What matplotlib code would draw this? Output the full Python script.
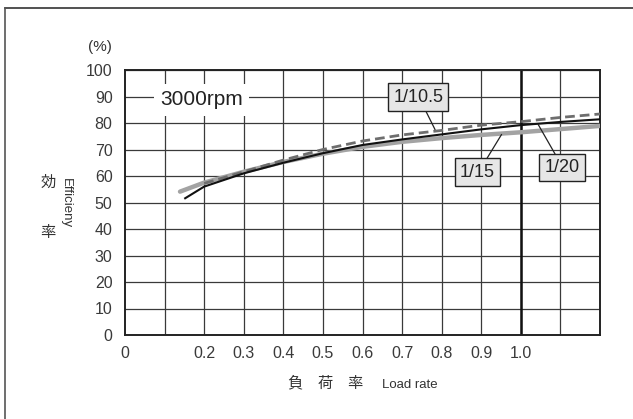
import matplotlib
matplotlib.use("Agg")
import matplotlib.pyplot as plt
from matplotlib.lines import Line2D

plt.rcParams['font.family'] = ['Liberation Sans', 'Noto Sans CJK JP', 'DejaVu Sans']

# efficiency vs load rate at 3000rpm
load_20 = [0.152, 0.2, 0.3, 0.4, 0.5, 0.6, 0.7, 0.8, 0.9, 1.0, 1.1, 1.2]
eff_20 = [51.6, 56.0, 61.0, 65.0, 68.6, 71.7, 73.8, 75.7, 77.6, 79.2, 80.4, 81.4]

load_15 = [0.139, 0.2, 0.3, 0.4, 0.5, 0.6, 0.7, 0.8, 0.9, 1.0, 1.1, 1.2]
eff_15 = [54.1, 57.5, 61.6, 65.3, 68.4, 71.0, 72.9, 74.3, 75.5, 76.5, 77.7, 78.9]

load_105 = [0.2, 0.3, 0.4, 0.5, 0.6, 0.7, 0.8, 0.9, 1.0, 1.1, 1.2]
eff_105 = [57.2, 61.6, 66.0, 70.0, 73.2, 75.5, 77.2, 79.2, 80.5, 82.1, 83.4]

x_grid = [0.1, 0.2, 0.3, 0.4, 0.5, 0.6, 0.7, 0.8, 0.9, 1.0, 1.1]
x_tick_pos = [0, 0.2, 0.3, 0.4, 0.5, 0.6, 0.7, 0.8, 0.9, 1.0]
x_tick_lbl = ['0', '0.2', '0.3', '0.4', '0.5', '0.6', '0.7', '0.8', '0.9', '1.0']
y_ticks = list(range(0, 101, 10))

# label boxes: text, box centre, leader line start and end
labels = [
    ('1/10.5', (0.741, 89.8), (0.760, 84.5), (0.783, 77.6)),
    ('1/15', (0.890, 61.5), (0.913, 66.3), (0.951, 75.6)),
    ('1/20', (1.104, 63.2), (1.088, 67.9), (1.044, 79.4)),
]

fig = plt.figure(figsize=(6.33, 4.19), dpi=100)
ax = fig.add_axes([125 / 633, 1 - 335 / 419, 475 / 633, 265 / 419])

ax.set_xlim(0, 1.2)
ax.set_ylim(0, 100)

for gx in x_grid:
    ax.axvline(gx, color='#3a3a3a', lw=0.9, zorder=1)
for gy in y_ticks[1:]:
    ax.axhline(gy, color='#3a3a3a', lw=0.9, zorder=1)
ax.axvline(1.0, color='#111111', lw=1.8, zorder=1)

for s in ax.spines.values():
    s.set_linewidth(1.4)
    s.set_color('#222222')

ax.plot(load_15, eff_15, color='#a3a3a3', lw=3.2, solid_capstyle='round', zorder=3)
ax.plot(load_105, eff_105, color='#6e6e6e', lw=2.0, dashes=(3.5, 1.8), zorder=4)
ax.plot(load_20, eff_20, color='#111111', lw=1.5, zorder=5)

ax.set_xticks(x_tick_pos)
ax.set_xticklabels(x_tick_lbl)
ax.set_yticks(y_ticks)
ax.tick_params(length=0, labelsize=11.5, labelcolor='#3a3a3a')
ax.tick_params(axis='y', pad=9)
ax.tick_params(axis='x', pad=8)

ax.text(0.194, 88.7, '3000rpm', fontsize=15, ha='center', va='center', color='#222222', zorder=6,
        bbox=dict(boxstyle='square,pad=0.3', fc='white', ec='none'))

for txt, (bx, by), (lx0, ly0), (lx1, ly1) in labels:
    ax.plot([lx0, lx1], [ly0, ly1], color='#222222', lw=0.9, zorder=6)
    ax.text(bx, by, txt, fontsize=13, ha='center', va='center', color='#222222', zorder=7,
            bbox=dict(boxstyle='square,pad=0.28', fc='#e6e6e6', ec='#222222', lw=1.0))

# labels outside the axes
fig.text(100 / 633, 1 - 47 / 419, '(%)', fontsize=11, ha='center', va='center', color='#333333')
fig.text(48 / 633, 1 - 182 / 419, '効', fontsize=11, ha='center', va='center',
         family=['Noto Sans CJK JP'], color='#333333')
fig.text(48 / 633, 1 - 232 / 419, '率', fontsize=11, ha='center', va='center',
         family=['Noto Sans CJK JP'], color='#333333')
fig.text(66 / 633, 1 - 203 / 419, 'Efficieny', fontsize=9.5, rotation=270, ha='center', va='center',
         color='#333333')
for ch, px in [('負', 295), ('荷', 325), ('率', 355)]:
    fig.text(px / 633, 1 - 383 / 419, ch, fontsize=11, ha='center', va='center',
             family=['Noto Sans CJK JP'], color='#333333')
fig.text(410 / 633, 1 - 385 / 419, 'Load rate', fontsize=9.5, ha='center', va='center',
         color='#333333')

# open frame around the chart (top and left)
fig.add_artist(Line2D([4.5 / 633, 1], [1 - 8 / 419, 1 - 8 / 419], color='#333333', lw=1.2))
fig.add_artist(Line2D([4.5 / 633, 4.5 / 633], [0, 1 - 8 / 419], color='#555555', lw=1.2))

fig.savefig('out.png', dpi=100)
